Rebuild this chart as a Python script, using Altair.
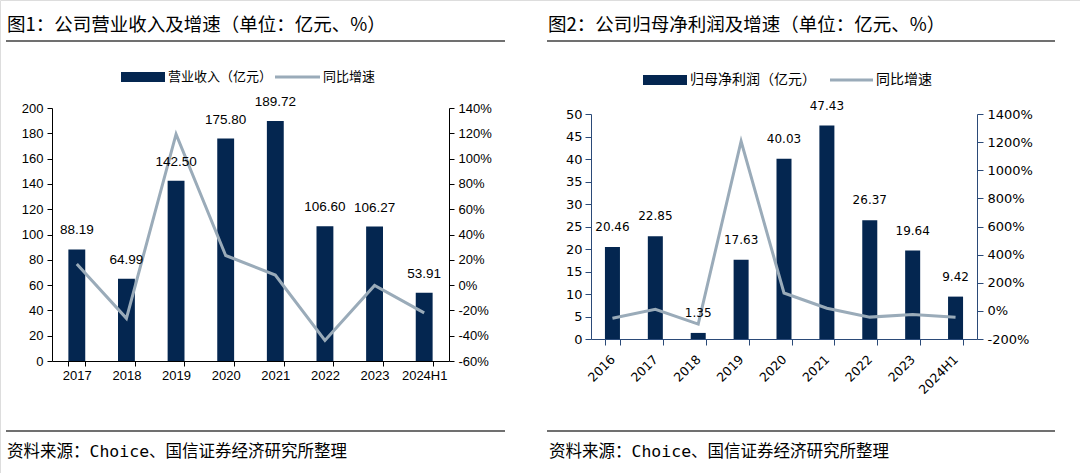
import altair as alt
import pandas as pd

# ---------------- data ----------------
rev_years = ["2017", "2018", "2019", "2020", "2021", "2022", "2023", "2024H1"]
rev_values = [88.19, 64.99, 142.50, 175.80, 189.72, 106.60, 106.27, 53.91]
rev_growth = [16.7, -26.3, 119.3, 23.4, 7.9, -43.8, -0.3, -22.0]

np_years = ["2016", "2017", "2018", "2019", "2020", "2021", "2022", "2023", "2024H1"]
np_values = [20.46, 22.85, 1.35, 17.63, 40.03, 47.43, 26.37, 19.64, 9.42]
np_growth = [-52.0, 11.7, -94.1, 1206.0, 127.1, 18.5, -44.4, -25.5, -45.0]

title1 = "图1：公司营业收入及增速（单位：亿元、%）"
title2 = "图2：公司归母净利润及增速（单位：亿元、%）"
legend1 = ["营业收入（亿元）", "同比增速"]
legend2 = ["归母净利润（亿元）", "同比增速"]
source = "资料来源：Choice、国信证券经济研究所整理"

rev_ticks = list(range(0, 201, 20))
rev_pct_ticks = list(range(-60, 141, 20))
np_ticks = list(range(0, 51, 5))
np_pct_ticks = list(range(-200, 1401, 200))

BAR = "#042650"
LINE = "#9AABB9"
NAVY_AX = "#2B4A78"
CJK = "Noto Sans CJK SC"
FOOT = "DejaVu Sans Mono, Noto Sans CJK SC"

df1 = pd.DataFrame({"year": rev_years, "value": rev_values, "growth": rev_growth,
                    "label": [f"{v:.2f}" for v in rev_values]})
df2 = pd.DataFrame({"year": np_years, "value": np_values, "growth": np_growth,
                    "label": [f"{v:.2f}" for v in np_values]})

W, H = 1080, 473

# ---------------- geometry of the two plot areas ----------------
L_X0, L_X1, L_Y0, L_Y1 = 52, 449, 361, 108
R_X0, R_X1, R_Y0, R_Y1 = 591, 977, 339, 114


def xscale(years, x0, x1, pin):
    return alt.Scale(type="band", domain=years, range=[x0, x1],
                     paddingInner=pin, paddingOuter=pin / 2)


# Left: bars with x axis and left y axis
l_bar = alt.Chart(df1).mark_bar(color=BAR).encode(
    x=alt.X("year:N", scale=xscale(rev_years, L_X0, L_X1, 0.66),
            axis=alt.Axis(orient="bottom", offset=L_Y0 - H, tickBand="extent",
                          tickSize=5, labelPadding=3, labelAngle=0, title=None,
                          domainColor="#000", tickColor="#000", labelColor="#000",
                          labelFont="Liberation Sans", labelFontSize=13, grid=False)),
    y=alt.Y("value:Q", scale=alt.Scale(domain=[0, 200], range=[L_Y0, L_Y1], nice=False),
            axis=alt.Axis(orient="left", offset=-L_X0, values=rev_ticks, tickSize=5,
                          labelPadding=4, title=None, grid=False,
                          domainColor="#000", tickColor="#000", labelColor="#000",
                          labelFont="Liberation Sans", labelFontSize=13)),
)
l_lab = alt.Chart(df1).mark_text(font="Liberation Sans", fontSize=13.5, color="#000",
                                 baseline="middle", dy=-19).encode(
    x=alt.X("year:N", scale=xscale(rev_years, L_X0, L_X1, 0.66), axis=None),
    y=alt.Y("value:Q", scale=alt.Scale(domain=[0, 200], range=[L_Y0, L_Y1], nice=False), axis=None),
    text="label:N",
)
l_line = alt.Chart(df1).mark_line(color=LINE, strokeWidth=3).encode(
    x=alt.X("year:N", scale=xscale(rev_years, L_X0, L_X1, 0.66), axis=None),
    y=alt.Y("growth:Q", scale=alt.Scale(domain=[-60, 140], range=[L_Y0, L_Y1], nice=False),
            axis=alt.Axis(orient="right", offset=L_X1 - W, values=rev_pct_ticks, tickSize=5,
                          labelPadding=4, title=None, grid=False,
                          labelExpr="datum.value + '%'",
                          domainColor="#000", tickColor="#000", labelColor="#000",
                          labelFont="Liberation Sans", labelFontSize=13)),
)

# Right chart
r_bar = alt.Chart(df2).mark_bar(color=BAR).encode(
    x=alt.X("year:N", scale=xscale(np_years, R_X0, R_X1, 0.65),
            axis=alt.Axis(orient="bottom", offset=R_Y0 - H, tickBand="extent",
                          tickSize=6, labelPadding=12, labelAngle=315, labelAlign="right",
                          labelBaseline="middle", title=None,
                          domainColor=NAVY_AX, tickColor=NAVY_AX, labelColor="#000",
                          labelFont="DejaVu Sans", labelFontSize=12.5, grid=False)),
    y=alt.Y("value:Q", scale=alt.Scale(domain=[0, 50], range=[R_Y0, R_Y1], nice=False),
            axis=alt.Axis(orient="left", offset=-R_X0, values=np_ticks, tickSize=6,
                          labelPadding=3, title=None, grid=False,
                          domainColor=NAVY_AX, tickColor=NAVY_AX, labelColor="#000",
                          labelFont="DejaVu Sans", labelFontSize=13)),
)
r_lab = alt.Chart(df2).mark_text(font="DejaVu Sans", fontSize=12, color="#000",
                                 baseline="middle", dy=-20).encode(
    x=alt.X("year:N", scale=xscale(np_years, R_X0, R_X1, 0.65), axis=None),
    y=alt.Y("value:Q", scale=alt.Scale(domain=[0, 50], range=[R_Y0, R_Y1], nice=False), axis=None),
    text="label:N",
)
r_line = alt.Chart(df2).mark_line(color=LINE, strokeWidth=3).encode(
    x=alt.X("year:N", scale=xscale(np_years, R_X0, R_X1, 0.65), axis=None),
    y=alt.Y("growth:Q", scale=alt.Scale(domain=[-200, 1400], range=[R_Y0, R_Y1], nice=False),
            axis=alt.Axis(orient="right", offset=R_X1 - W, values=np_pct_ticks, tickSize=6,
                          labelPadding=4, title=None, grid=False,
                          labelExpr="datum.value + '%'",
                          domainColor=NAVY_AX, tickColor=NAVY_AX, labelColor="#000",
                          labelFont="DejaVu Sans", labelFontSize=13)),
)

# ---------------- decorations ----------------
one = pd.DataFrame({"k": [0]})


def text_at(txt, x, y, size, font=CJK, weight="normal", align="left"):
    return alt.Chart(pd.DataFrame({"t": [txt]})).mark_text(
        font=font, fontSize=size, fontWeight=weight, align=align, baseline="middle",
        color="#000").encode(x=alt.value(x), y=alt.value(y), text="t:N")


def hrule(x0, x1, y, color="#404040", w=1.5):
    return alt.Chart(one).mark_rule(color=color, strokeWidth=w).encode(
        x=alt.value(x0), x2=alt.value(x1), y=alt.value(y))


def swatch(x0, x1, y0, y1):
    return alt.Chart(one).mark_rect(color=BAR).encode(
        x=alt.value(x0), x2=alt.value(x1), y=alt.value(y0), y2=alt.value(y1))


decor = [
    text_at(title1, 7, 25, 18.5),
    text_at(title2, 548, 25, 18.5),
    hrule(6, 505, 41),
    hrule(547, 1055, 41),
    hrule(6, 505, 431),
    hrule(547, 1055, 431),
    text_at(source, 7, 452, 16.5, font=FOOT),
    text_at(source, 549, 452, 16.5, font=FOOT),
    # legends
    swatch(121, 165, 72, 82),
    text_at(legend1[0], 168, 77, 13),
    hrule(275, 320, 77, color=LINE, w=3),
    text_at(legend1[1], 323, 77, 13),
    swatch(643, 687, 75, 85),
    text_at(legend2[0], 690, 80, 14),
    hrule(830, 873, 80, color=LINE, w=3),
    text_at(legend2[1], 876, 80, 14),
]

chart = alt.layer(
    l_bar, l_line, l_lab, r_bar, r_line, r_lab, *decor
).resolve_scale(x="independent", y="independent").properties(
    width=W, height=H, padding=0,
    autosize=alt.AutoSizeParams(type="none"),
).configure_view(stroke=None).configure(background="white")

chart.save("out.html", embed_options={"renderer": "svg", "actions": False})
